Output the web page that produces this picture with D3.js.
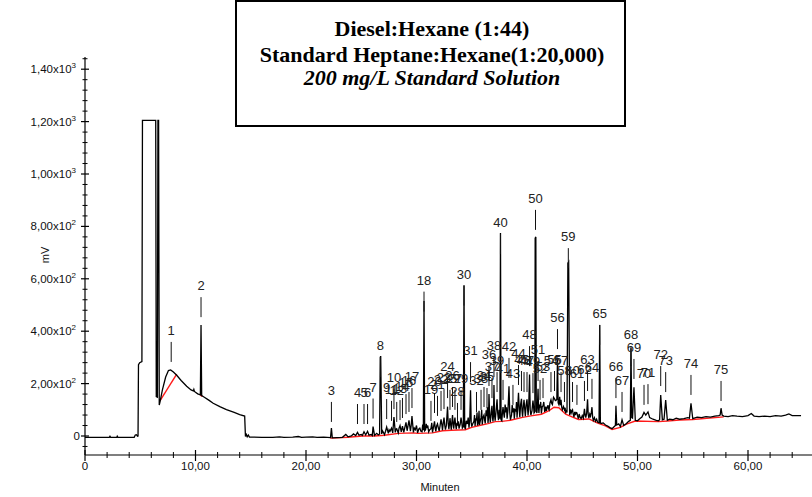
<!DOCTYPE html>
<html>
<head>
<meta charset="utf-8">
<script src="https://cdn.jsdelivr.net/npm/d3@7"></script>
<style>
  body { margin: 0; background: #fff; }
  svg { display: block; }
</style>
</head>
<body>
<svg id="chart" width="812" height="497"></svg>
<script>
// ---- Chart data -------------------------------------------------------
const titleLines = [
  "Diesel:Hexane (1:44)",
  "Standard Heptane:Hexane(1:20,000)",
  "200 mg/L Standard Solution"
];

const xTicks = [0, 10, 20, 30, 40, 50, 60];
const xTickLabels = ["0", "10,00", "20,00", "30,00", "40,00", "50,00", "60,00"];
const yTicks = [0, 200, 400, 600, 800, 1000, 1200, 1400];
// mantissa text, exponent text
const yTickLabels = [["0", ""], ["2,00x10", "2"], ["4,00x10", "2"], ["6,00x10", "2"],
  ["8,00x10", "2"], ["1,00x10", "3"], ["1,20x10", "3"], ["1,40x10", "3"]];
const xTitle = "Minuten";
const yTitle = "mV";

// detector signal: [time (min), signal (mV)]
const signal = [
  [0, -5], [2.2, -5], [2.26, -1], [2.32, -5], [2.88, -5], [2.92, -1], [2.98, -5],
  [4.45, -5], [4.55, 4], [4.65, 5], [4.75, -1], [4.8, 0], [4.84, 272], [4.95, 280],
  [5.15, 284], [5.2, 1205], [6.4, 1205], [6.45, 150], [6.55, 148], [6.6, 1205],
  [6.66, 1205], [6.72, 118], [6.8, 132], [7.0, 175], [7.3, 225], [7.55, 250],
  [7.75, 252], [8.0, 244], [8.3, 232], [8.7, 212], [9.2, 190], [9.6, 176],
  [9.8, 172], [9.85, 178], [9.9, 170], [10.2, 161], [10.44, 157], [10.5, 424],
  [10.56, 154], [10.8, 148], [11.2, 137], [11.6, 125], [12.2, 112], [12.8, 101],
  [13.5, 90], [14.0, 82], [14.45, 76], [14.52, -2], [14.6, 6], [14.68, -3],
  [14.78, 4], [14.88, -4], [15.3, -4], [16.0, -5], [17.0, -5], [17.6, -3],
  [18.0, -5], [18.8, -4], [19.3, -2], [19.6, -5], [20.0, -4], [20.6, -3],
  [21.0, -5], [21.6, -4], [22.22, -6], [22.3, 30], [22.38, -7], [22.8, -6],
  [23.3, -5], [23.6, 6], [23.8, -3], [24.1, 0], [24.3, 8], [24.5, 2],
  [24.66, 14], [24.8, 3], [25.0, 6], [25.1, 2], [25.25, 16], [25.4, 4],
  [25.57, 18], [25.7, 3], [25.9, 6], [26.0, 2], [26.07, 36], [26.2, 2],
  [26.4, 10], [26.55, 4], [26.66, 8], [26.72, 300], [26.76, 305], [26.85, 8],
  [26.92, 20], [27.0, 14], [27.1, 5], [27.2, 18], [27.3, 34], [27.45, 10],
  [27.52, 24], [27.6, 18], [27.74, 30], [27.85, 12], [27.96, 72], [28.08, 14],
  [28.14, 26], [28.21, 28], [28.35, 12], [28.42, 30], [28.51, 40], [28.62, 16],
  [28.73, 38], [28.85, 14], [28.95, 34], [29.05, 52], [29.15, 20], [29.22, 36],
  [29.32, 60], [29.45, 18], [29.52, 40], [29.59, 76], [29.72, 14], [29.8, 30],
  [29.9, 24], [30.0, 40], [30.1, 12], [30.2, 26], [30.3, 30], [30.4, 18],
  [30.5, 16], [30.56, 44], [30.62, 22], [30.68, 515], [30.74, 20], [30.82, 24],
  [30.88, 46], [30.95, 30], [31.02, 40], [31.1, 16], [31.2, 24], [31.31, 28],
  [31.38, 50], [31.45, 14], [31.52, 30], [31.63, 56], [31.7, 28], [31.75, 18],
  [31.82, 38], [31.9, 46], [31.98, 30], [32.05, 20], [32.12, 36], [32.22, 64],
  [32.3, 42], [32.35, 22], [32.42, 50], [32.49, 70], [32.56, 40], [32.62, 24],
  [32.7, 40], [32.81, 112], [32.87, 48], [32.93, 26], [32.98, 44], [33.03, 68],
  [33.1, 40], [33.15, 24], [33.2, 52], [33.26, 80], [33.32, 44], [33.37, 28],
  [33.42, 52], [33.48, 70], [33.54, 42], [33.6, 26], [33.66, 50], [33.71, 40],
  [33.78, 56], [33.85, 28], [33.95, 44], [34.03, 70], [34.1, 50], [34.15, 30],
  [34.24, 36], [34.3, 575], [34.36, 34], [34.42, 26], [34.5, 58], [34.6, 46],
  [34.68, 70], [34.75, 32], [34.82, 60], [34.89, 175], [34.95, 52], [35.0, 36],
  [35.1, 48], [35.2, 56], [35.25, 80], [35.3, 38], [35.36, 64], [35.43, 62],
  [35.48, 90], [35.52, 40], [35.6, 52], [35.66, 96], [35.7, 42], [35.78, 60],
  [35.84, 70], [35.9, 100], [35.95, 44], [36.03, 72], [36.11, 80], [36.17, 60],
  [36.22, 48], [36.3, 98], [36.38, 76], [36.42, 110], [36.47, 50], [36.52, 70],
  [36.56, 160], [36.62, 80], [36.68, 52], [36.76, 90], [36.83, 115], [36.88, 70],
  [36.92, 56], [36.97, 80], [37.01, 195], [37.06, 80], [37.12, 58], [37.2, 96],
  [37.29, 140], [37.35, 86], [37.42, 60], [37.48, 100], [37.55, 66], [37.6, 775],
  [37.65, 62], [37.72, 58], [37.78, 90], [37.83, 110], [37.9, 84], [37.95, 70],
  [38.02, 120], [38.1, 90], [38.15, 110], [38.2, 66], [38.28, 100], [38.37, 190],
  [38.44, 90], [38.5, 62], [38.6, 80], [38.66, 118], [38.73, 90], [38.8, 106],
  [38.85, 66], [38.92, 100], [39.0, 96], [39.05, 130], [39.1, 70], [39.16, 110],
  [39.23, 165], [39.3, 100], [39.35, 72], [39.42, 120], [39.5, 142], [39.55, 96],
  [39.6, 74], [39.66, 108], [39.73, 138], [39.8, 100], [39.85, 76], [39.92, 118],
  [40.0, 140], [40.05, 104], [40.1, 78], [40.16, 120], [40.23, 235], [40.29, 100],
  [40.35, 80], [40.45, 96], [40.54, 135], [40.6, 110], [40.64, 88], [40.71, 92],
  [40.74, 755], [40.8, 760], [40.84, 95], [40.9, 88], [40.95, 120], [41.0, 180],
  [41.04, 110], [41.08, 88], [41.13, 120], [41.18, 108], [41.24, 130], [41.3, 86],
  [41.38, 112], [41.45, 115], [41.52, 130], [41.6, 92], [41.7, 112], [41.75, 96],
  [41.8, 105], [41.9, 118], [41.95, 104], [42.0, 100], [42.08, 126], [42.17, 138],
  [42.24, 124], [42.3, 120], [42.4, 148], [42.49, 142], [42.55, 136], [42.6, 135],
  [42.7, 140], [42.76, 300], [42.82, 126], [42.88, 120], [42.96, 150], [43.02, 118],
  [43.08, 138], [43.14, 110], [43.2, 100], [43.3, 112], [43.39, 100], [43.45, 108],
  [43.5, 86], [43.56, 100], [43.62, 90], [43.7, 660], [43.77, 665], [43.86, 80],
  [43.93, 102], [44.0, 88], [44.06, 96], [44.12, 100], [44.18, 84], [44.25, 72],
  [44.32, 92], [44.38, 80], [44.45, 90], [44.52, 88], [44.58, 76], [44.65, 66],
  [44.72, 84], [44.8, 72], [44.9, 66], [45.0, 78], [45.1, 68], [45.2, 104],
  [45.26, 80], [45.32, 70], [45.4, 88], [45.48, 140], [45.54, 82], [45.6, 68],
  [45.68, 84], [45.75, 76], [45.82, 90], [45.88, 110], [45.94, 72], [46.0, 60],
  [46.1, 70], [46.2, 56], [46.3, 64], [46.4, 52], [46.52, 50], [46.58, 424],
  [46.64, 50], [46.7, 48], [46.9, 50], [47.1, 42], [47.3, 38], [47.5, 32],
  [47.7, 28], [47.9, 36], [48.0, 40], [48.05, 115], [48.12, 42], [48.3, 46],
  [48.45, 36], [48.6, 62], [48.75, 40], [49.0, 48], [49.2, 56], [49.35, 60],
  [49.41, 335], [49.48, 70], [49.55, 68], [49.68, 186], [49.8, 60], [50.0, 58],
  [50.2, 66], [50.4, 72], [50.59, 90], [50.75, 80], [50.95, 92], [51.1, 70],
  [51.4, 64], [51.7, 60], [51.9, 58], [52.0, 62], [52.1, 156], [52.25, 62],
  [52.4, 64], [52.55, 137], [52.7, 60], [52.9, 64], [53.2, 62], [53.5, 68],
  [53.8, 64], [54.2, 66], [54.55, 70], [54.7, 68], [54.84, 125], [55.0, 66],
  [55.4, 72], [55.8, 70], [56.2, 74], [56.6, 72], [57.0, 76], [57.35, 78],
  [57.48, 80], [57.56, 106], [57.66, 80], [57.8, 76], [58.2, 74], [58.6, 78],
  [59.0, 76], [59.5, 74], [60.0, 78], [60.3, 86], [60.55, 76], [61.0, 74],
  [61.5, 76], [62.0, 74], [62.5, 78], [63.0, 76], [63.4, 80], [63.7, 84],
  [64.0, 78], [64.4, 78], [64.8, 78]
];

// integration baselines, one polyline per segment: [time, mV]
const baselines = [
  [[6.78, 134], [8.3, 236]],
  [[10.42, 157], [10.62, 151]],
  [[22.2, -8], [23.8, -5], [25.1, 0], [26.2, 0], [27.1, 3], [28.35, 10], [29.72, 12],
   [30.1, 10], [31.45, 12], [32.35, 20], [33.15, 22], [34.42, 24], [35.0, 33],
   [35.7, 40], [36.47, 47], [37.12, 55], [37.72, 56], [38.5, 60], [39.6, 71],
   [40.35, 77], [41.3, 83], [42.0, 97], [42.45, 110], [42.88, 108], [43.5, 83],
   [43.86, 77], [44.65, 63], [45.6, 65], [46.4, 49], [47.1, 39], [47.7, 25],
   [48.45, 33], [49.0, 45], [49.8, 57], [51.9, 55], [52.7, 57], [53.8, 61],
   [55.0, 63], [57.8, 73]]
];

// detected peaks: [number, retention time (min), apex (mV)]
const peaks = [
  [1, 7.8, 256], [2, 10.5, 427], [3, 22.3, 27], [4, 24.66, 19], [5, 25.25, 19],
  [6, 25.57, 19], [7, 26.07, 40], [8, 26.74, 198], [9, 27.3, 38], [10, 27.96, 76],
  [11, 27.74, 31], [12, 28.21, 27], [13, 28.51, 34], [14, 28.73, 42], [15, 29.05, 57],
  [16, 29.32, 65], [17, 29.59, 80], [18, 30.68, 448], [19, 31.31, 31], [20, 31.63, 61],
  [21, 31.9, 50], [22, 32.22, 69], [23, 32.49, 76], [24, 32.81, 118], [25, 33.03, 73],
  [26, 33.26, 84], [27, 33.48, 73], [28, 33.71, 23], [29, 34.03, 73], [30, 34.3, 471],
  [31, 34.89, 179], [32, 35.43, 65], [33, 35.84, 73], [34, 36.11, 84], [35, 36.38, 80],
  [36, 36.56, 164], [37, 36.83, 118], [38, 37.01, 198], [39, 37.29, 141], [40, 37.6, 668],
  [41, 37.83, 111], [42, 38.37, 195], [43, 38.73, 92], [44, 39.23, 168], [45, 39.5, 145],
  [46, 39.73, 141], [47, 40.0, 141], [48, 40.23, 240], [49, 40.54, 137], [50, 40.77, 760],
  [51, 41.0, 183], [52, 41.18, 111], [53, 41.45, 118], [54, 42.17, 141], [55, 42.49, 145],
  [56, 42.76, 305], [57, 43.08, 141], [58, 43.39, 103], [59, 43.74, 614], [60, 44.12, 103],
  [61, 44.52, 92], [62, 45.2, 107], [63, 45.48, 145], [64, 45.88, 115], [65, 46.58, 321],
  [66, 48.05, 118], [67, 48.6, 65], [68, 49.41, 240], [69, 49.68, 191], [70, 50.59, 92],
  [71, 50.95, 95], [72, 52.1, 164], [73, 52.55, 141], [74, 54.84, 130], [75, 57.56, 107]
];

// ---- Drawing ----------------------------------------------------------
const svg = d3.select("#chart");
const sans = "'Liberation Sans', Arial, sans-serif";
const serif = "'Liberation Serif', 'Times New Roman', serif";

const x = d3.scaleLinear().domain([0, 60]).range([85, 748]);
const y = d3.scaleLinear().domain([0, 1400]).range([436, 69.2]);
const xMax = x.invert(812);
const yMax = y.invert(57);

// x axis: line, major/minor ticks, labels
svg.append("line").attr("x1", 85).attr("x2", 812).attr("y1", 455).attr("y2", 455)
  .attr("stroke", "#000").attr("stroke-width", 1.2);

const xMinor = d3.range(0, xMax, 2);
svg.append("g").selectAll("line").data(xMinor).join("line")
  .attr("x1", d => x(d)).attr("x2", d => x(d))
  .attr("y1", d => d % 10 === 0 ? 450 : 452).attr("y2", d => d % 10 === 0 ? 461 : 458)
  .attr("stroke", "#000").attr("stroke-width", d => d % 10 === 0 ? 1.2 : 1);

svg.append("g").selectAll("text").data(xTicks).join("text")
  .attr("x", d => x(d)).attr("y", 470)
  .attr("text-anchor", "middle").attr("font-family", sans).attr("font-size", 11.5)
  .attr("fill", "#111")
  .text((d, i) => xTickLabels[i]);

svg.append("text").attr("x", 440).attr("y", 491).attr("text-anchor", "middle")
  .attr("font-family", sans).attr("font-size", 11).attr("fill", "#111").text(xTitle);

// y axis
svg.append("line").attr("x1", 85).attr("x2", 85).attr("y1", 57).attr("y2", 455)
  .attr("stroke", "#000").attr("stroke-width", 1.2);

const yMinor = d3.range(-40, yMax, 40);
svg.append("g").selectAll("line").data(yMinor).join("line")
  .attr("y1", d => y(d)).attr("y2", d => y(d))
  .attr("x1", d => d % 200 === 0 ? 81 : 82.5).attr("x2", d => d % 200 === 0 ? 89 : 87.5)
  .attr("stroke", "#000").attr("stroke-width", d => d % 200 === 0 ? 1.2 : 1);

const yl = svg.append("g").selectAll("text").data(yTicks).join("text")
  .attr("x", (d, i) => yTickLabels[i][1] ? 76 : 80).attr("y", d => y(d) + 4)
  .attr("text-anchor", "end").attr("font-family", sans).attr("font-size", 11.5)
  .attr("fill", "#111");
yl.append("tspan").text((d, i) => yTickLabels[i][0]);
yl.append("tspan").attr("dy", -5).attr("font-size", 8).text((d, i) => yTickLabels[i][1]);

svg.append("text").attr("transform", "translate(49,255) rotate(-90)")
  .attr("text-anchor", "middle").attr("font-family", sans).attr("font-size", 11)
  .attr("fill", "#111").text(yTitle);

// integration baselines (under the trace)
const line = d3.line().x(d => x(d[0])).y(d => y(d[1]));
svg.append("g").selectAll("path").data(baselines).join("path")
  .attr("d", line).attr("fill", "none").attr("stroke", "#ff1a1a").attr("stroke-width", 1.4);

// signal trace
svg.append("path").datum(signal).attr("d", line)
  .attr("fill", "none").attr("stroke", "#000").attr("stroke-width", 1.3)
  .attr("stroke-linejoin", "miter");

// peak markers and numbers
const pg = svg.append("g").selectAll("g").data(peaks).join("g");
pg.append("line")
  .attr("x1", d => x(d[1])).attr("x2", d => x(d[1]))
  .attr("y1", d => y(d[2]) - 7).attr("y2", d => y(d[2]) - 27)
  .attr("stroke", "#111").attr("stroke-width", 1);
pg.append("text")
  .attr("x", d => x(d[1])).attr("y", d => y(d[2]) - 34)
  .attr("text-anchor", "middle").attr("font-family", sans).attr("font-size", 13)
  .attr("fill", "#222").text(d => d[0]);

// title box
svg.append("rect").attr("x", 236).attr("y", 1).attr("width", 389).attr("height", 125)
  .attr("fill", "#fff").attr("stroke", "#000").attr("stroke-width", 2);
svg.append("g").selectAll("text").data(titleLines).join("text")
  .attr("x", 432).attr("y", (d, i) => [36, 62, 85][i])
  .attr("text-anchor", "middle").attr("font-family", serif).attr("font-size", 22)
  .attr("font-weight", "bold").attr("font-style", (d, i) => i === 2 ? "italic" : "normal")
  .attr("fill", "#000").text(d => d);
</script>
</body>
</html>
